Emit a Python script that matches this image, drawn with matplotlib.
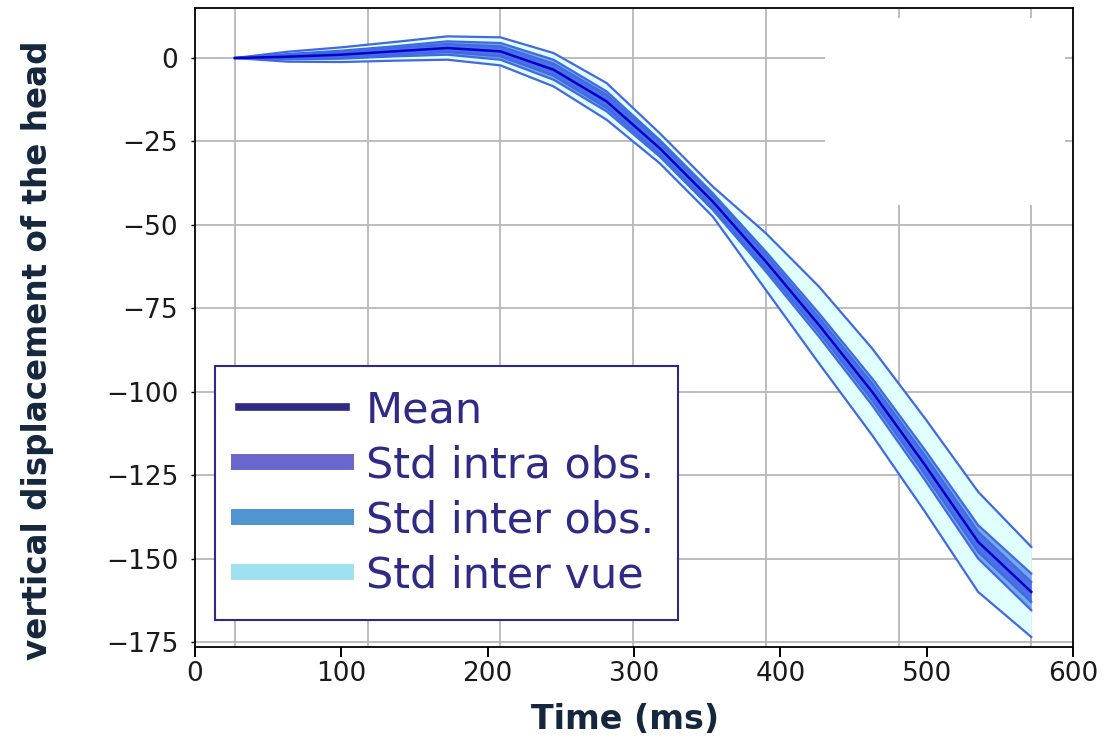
import numpy as np
import matplotlib
matplotlib.use("Agg")
import matplotlib.pyplot as plt
from matplotlib.lines import Line2D
from matplotlib.patches import Rectangle

# --------- DATA -----------------------------------
time_ms = [27.3, 63.6, 99.9, 136.1, 172.4, 208.7, 245.0, 281.3,
           317.5, 353.8, 390.1, 426.4, 462.7, 498.9, 535.2, 571.5]
mean_disp = [0.0, 0.4, 1.0, 2.0, 3.0, 2.0, -3.5, -13.0,
             -27.0, -43.0, -61.0, -80.0, -100.0, -122.0, -145.0, -160.0]
std_intra = [0.0, 0.5, 0.8, 1.0, 1.2, 1.5, 1.8, 2.0,
             1.8, 1.8, 2.0, 2.2, 2.5, 2.8, 3.0, 3.0]
std_inter_obs = [0.0, 0.8, 1.2, 1.5, 2.0, 2.5, 3.0, 3.0,
                 2.5, 2.5, 3.0, 3.5, 4.0, 4.5, 5.0, 5.5]
std_inter_vue = [0.0, 1.5, 2.2, 2.8, 3.5, 4.2, 5.0, 5.5,
                 4.5, 4.5, 8.5, 11.5, 13.0, 14.0, 15.0, 13.5]

legend_labels = ["Mean", "Std intra obs.", "Std inter obs.", "Std inter vue"]
legend_colors = ["#2e2a85", "#6a67cc", "#4f95d0", "#a0e1f0"]
x_ticks = [0, 100, 200, 300, 400, 500, 600]
y_ticks = [0, -25, -50, -75, -100, -125, -150, -175]
# --------------------------------------------------

t = np.asarray(time_ms)
m = np.asarray(mean_disp)
EDGE = "#4169e1"

fig = plt.figure(figsize=(11.17, 7.39), dpi=100)
ax = fig.add_axes([0.1746, 0.1245, 0.786, 0.8647])

bands = [
    (np.asarray(std_inter_vue), "#e0ffff"),
    (np.asarray(std_inter_obs), "#74a9f0"),
    (np.asarray(std_intra), "#4a72e6"),
]
for s, fill in bands:
    ax.fill_between(t, m - s, m + s, color=fill, lw=0, zorder=2)
    ax.plot(t, m + s, color=EDGE, lw=1.6, zorder=3)
    ax.plot(t, m - s, color=EDGE, lw=1.6, zorder=3)
ax.plot(t, m, color="#0000cd", lw=1.8, zorder=4)

ax.set_xlim(0, 600)
ax.set_ylim(-176.5, 15)
ax.set_xticks(x_ticks)
ax.set_yticks(y_ticks)
# vertical grid follows the sampling (every 2.5 samples), not the ms ticks
ax.set_xticks(t[0] + (t[-1] - t[0]) / 6 * np.arange(7), minor=True)
ax.grid(True, which="minor", axis="x", color="#b8b8b8", lw=1.3, zorder=0)
ax.grid(True, which="major", axis="y", color="#b8b8b8", lw=1.3, zorder=0)
ax.set_axisbelow(True)

ax.tick_params(axis="x", which="minor", length=0)
ax.tick_params(axis="x", which="major", length=7, width=1.4, pad=3,
               labelsize=19, labelcolor="#1a1a1a")
ax.tick_params(axis="y", length=3, width=1.0, pad=9,
               labelsize=19, labelcolor="#1a1a1a")
for sp in ax.spines.values():
    sp.set_linewidth(1.3)

# blank patch in the upper right corner
ax.add_patch(Rectangle((0.7175, 0.692), 0.2735, 0.292, transform=ax.transAxes,
                       facecolor="white", edgecolor="none", zorder=1))

lab_font = dict(family="DejaVu Sans", weight="bold", color="#14273d")
ax.set_xlabel("Time (ms)", fontsize=24, **lab_font)
ax.xaxis.set_label_coords(0.49, -0.114)
ax.xaxis.label.set_va("center")
ax.set_ylabel("vertical displacement of the head", fontsize=23.5, **lab_font)
ax.yaxis.set_label_coords(-0.179, 0.465)
ax.yaxis.label.set_va("center")

handles = [Line2D([], [], color=legend_colors[0], lw=5.5)]
handles += [Line2D([], [], color=c, lw=11.5) for c in legend_colors[1:]]
leg = ax.legend(handles, legend_labels, loc="lower left",
                bbox_to_anchor=(0.0228, 0.0423), borderaxespad=0,
                fontsize=31, labelcolor="#2e2a85", handlelength=2.5,
                handletextpad=0.45, labelspacing=0.3, borderpad=0.55,
                fancybox=False, framealpha=1, edgecolor="#2e2a85")
leg.get_frame().set_linewidth(1.5)
leg.set_zorder(10)

fig.savefig("out.png", dpi=100)
